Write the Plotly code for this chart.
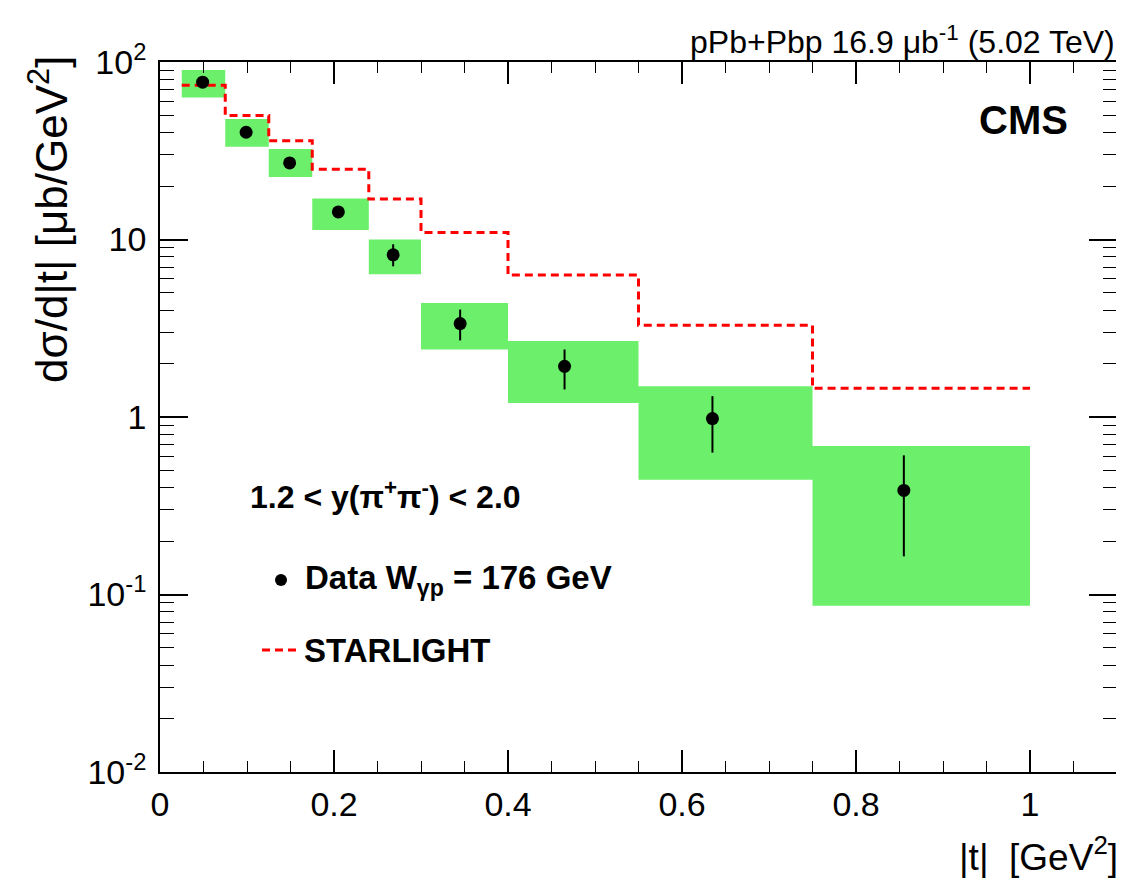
import plotly.graph_objects as go

# ---- data ----
bin_lo = [0.025, 0.075, 0.125, 0.175, 0.24, 0.30, 0.40, 0.55, 0.75]
bin_hi = [0.075, 0.125, 0.175, 0.24, 0.30, 0.40, 0.55, 0.75, 1.00]
t_pts = [0.049, 0.099, 0.149, 0.205, 0.268, 0.345, 0.465, 0.635, 0.855]
dsdt = [77.0, 40.2, 27.0, 14.3, 8.2, 3.36, 1.93, 0.98, 0.386]
stat_up = [3.0, 2.0, 1.5, 1.0, 1.2, 0.67, 0.47, 0.33, 0.222]
stat_dn = [3.0, 2.0, 1.5, 1.0, 1.14, 0.66, 0.50, 0.35, 0.222]
sys_hi = [90.0, 47.7, 32.3, 17.0, 10.0, 4.39, 2.68, 1.49, 0.686]
sys_lo = [63.0, 33.3, 22.5, 11.3, 6.37, 2.40, 1.20, 0.443, 0.0865]
starlight = [74.0, 50.0, 36.0, 24.9, 16.9, 10.96, 6.3, 3.29, 1.45]

x_ticks = [0, 0.2, 0.4, 0.6, 0.8, 1.0]
x_ticktext = ["0", "0.2", "0.4", "0.6", "0.8", "1"]
y_ticks = [0.01, 0.1, 1, 10, 100]
y_ticktext = ["10<sup>-2</sup>", "10<sup>-1</sup>", "1", "10", "10<sup>2</sup>"]

FONT = "Liberation Sans, Arial, Helvetica, sans-serif"
GREEN = "rgb(108,240,108)"

fig = go.Figure()

# systematic boxes (one polygon trace, separated by None)
bx, by = [], []
for lo, hi, ylo, yhi in zip(bin_lo, bin_hi, sys_lo, sys_hi):
    bx += [lo, hi, hi, lo, lo, None]
    by += [ylo, ylo, yhi, yhi, ylo, None]
fig.add_trace(go.Scatter(x=bx, y=by, mode="lines", fill="toself",
                         fillcolor=GREEN, line=dict(width=0),
                         hoverinfo="skip", showlegend=False))

# STARLIGHT step histogram
sx = bin_lo + [bin_hi[-1]]
sy = starlight + [starlight[-1]]
fig.add_trace(go.Scatter(x=sx, y=sy, mode="lines", line_shape="hv",
                         line=dict(color="red", width=3, dash="8px,5px"),
                         showlegend=False))

# data points
fig.add_trace(go.Scatter(x=t_pts, y=dsdt, mode="markers",
                         marker=dict(color="black", size=13),
                         error_y=dict(type="data", symmetric=False,
                                      array=stat_up, arrayminus=stat_dn,
                                      color="black", thickness=2, width=0),
                         showlegend=False))

# empty helper trace so that the mirrored (top/right) tick axes are drawn
fig.add_trace(go.Scatter(x=[None], y=[None], xaxis="x2", yaxis="y2",
                         mode="markers", showlegend=False, hoverinfo="skip"))

minor_y = []
for d in [0.01, 0.1, 1, 10]:
    minor_y += [d * k for k in range(2, 10)]

xcommon = dict(range=[0, 1.1], tickvals=x_ticks,
               ticks="inside", ticklen=22, tickwidth=1.5, tickcolor="black",
               showline=True, linecolor="black", linewidth=1.5,
               showgrid=False, zeroline=False, automargin=False,
               minor=dict(dtick=0.05, ticks="inside", ticklen=11,
                          tickwidth=1.2, tickcolor="black", showgrid=False))
ycommon = dict(type="log", range=[-2, 2], tickvals=y_ticks,
               ticks="inside", ticklen=28, tickwidth=1.5, tickcolor="black",
               showline=True, linecolor="black", linewidth=1.5,
               showgrid=False, zeroline=False, automargin=False,
               minor=dict(tickvals=minor_y, ticks="inside", ticklen=14,
                          tickwidth=1.2, tickcolor="black", showgrid=False))

# the page body has an 8px margin, so the figure is sized/offset for that
fig.update_layout(
    width=1116, height=876, autosize=False,
    margin=dict(l=152, r=7, t=54, b=112),
    paper_bgcolor="white", plot_bgcolor="white",
    font=dict(family=FONT, color="black"),
    xaxis=dict(**xcommon, ticktext=x_ticktext,
               tickfont=dict(size=34, family=FONT), ticklabelstandoff=1),
    yaxis=dict(**ycommon, ticktext=y_ticktext,
               tickfont=dict(size=34, family=FONT), ticklabelstandoff=5),
    xaxis2=dict(**xcommon, overlaying="x", side="top", anchor="y2",
                showticklabels=False),
    yaxis2=dict(**ycommon, overlaying="y", side="right", anchor="x2",
                showticklabels=False),
)

ann = []
# y axis title
ann.append(dict(text="dσ/d|t| [μb/GeV<sup>2</sup>]", textangle=-90,
                xref="paper", yref="paper", x=-0.116, y=1.012,
                xanchor="center", yanchor="top", showarrow=False,
                font=dict(size=44, family=FONT)))
# x axis title
ann.append(dict(text="|t|  [GeV<sup>2</sup>]", xref="paper", yref="paper",
                x=1.0, y=(772 - 880) / 710, xanchor="right", yanchor="bottom",
                xshift=3, showarrow=False, font=dict(size=37, family=FONT)))
# top-right lumi text
ann.append(dict(text="pPb+Pbp 16.9 μb<sup>-1</sup> (5.02 TeV)",
                xref="paper", yref="paper", x=1.0, y=1.0,
                xanchor="right", yanchor="bottom", yshift=0, showarrow=False,
                font=dict(size=32, family=FONT)))
# CMS
ann.append(dict(text="<b>CMS</b>", xref="paper", yref="paper",
                x=(1070 - 160) / 957, y=(772 - 120) / 710,
                xanchor="right", yanchor="middle", showarrow=False,
                font=dict(size=40, family=FONT)))
# rapidity range
ann.append(dict(text="<b>1.2 < y(π<sup>+</sup>π<sup>-</sup>) < 2.0</b>",
                xref="paper", yref="paper",
                x=(248 - 160) / 957, y=(772 - 495) / 710,
                xanchor="left", yanchor="middle", showarrow=False,
                font=dict(size=32, family=FONT)))
# legend entries
ann.append(dict(text="<b>Data W<sub>γp</sub> = 176 GeV</b>",
                xref="paper", yref="paper",
                x=(303 - 160) / 957, y=(772 - 580) / 710,
                xanchor="left", yanchor="middle", showarrow=False,
                font=dict(size=33, family=FONT)))
ann.append(dict(text="<b>STARLIGHT</b>",
                xref="paper", yref="paper",
                x=(302 - 160) / 957, y=(772 - 650) / 710,
                xanchor="left", yanchor="middle", showarrow=False,
                font=dict(size=33, family=FONT)))
fig.update_layout(annotations=ann)

shapes = []
# legend marker (data)
cx, cy = (281 - 160) / 957, (772 - 580) / 710
rx, ry = 6 / 957, 6 / 710
shapes.append(dict(type="circle", xref="paper", yref="paper",
                   x0=cx - rx, x1=cx + rx, y0=cy - ry, y1=cy + ry,
                   fillcolor="black", line=dict(color="black", width=0)))
# legend line (starlight)
ly = (772 - 650) / 710
shapes.append(dict(type="line", xref="paper", yref="paper",
                   x0=(262 - 160) / 957, x1=(300 - 160) / 957, y0=ly, y1=ly,
                   line=dict(color="red", width=3, dash="8px,5px")))
fig.update_layout(shapes=shapes)

fig.write_html("out.html")
